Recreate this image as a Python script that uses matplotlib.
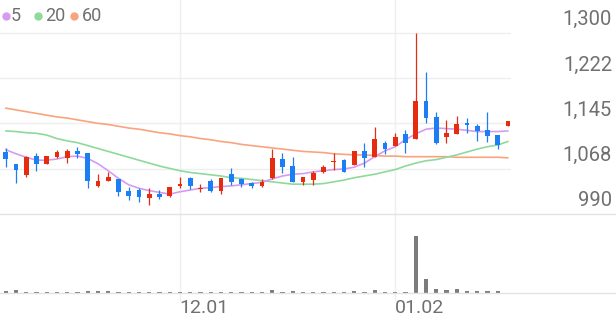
import matplotlib
matplotlib.use("Agg")
import matplotlib.pyplot as plt
from matplotlib.lines import Line2D
from matplotlib import transforms
import numpy as np
import pandas as pd

# ---------------- data ----------------
dates = pd.bdate_range("2022-11-08", "2023-01-17")
dates = dates[dates != pd.Timestamp("2022-12-30")]

open_ = [1096, 1076, 1056, 1090, 1076, 1088, 1086, 1097, 1094, 1038,
         1046, 1049, 1030, 1031, 1018, 1025, 1020, 1038, 1051, 1033,
         1047, 1030, 1058, 1049, 1043, 1038, 1051, 1084, 1072, 1045,
         1048, 1061, 1079, 1082, 1074, 1098, 1088, 1111, 1106, 1127,
         1119, 1183, 1156, 1121, 1127, 1145, 1141, 1134, 1125, 1141]
high = [1102, 1076, 1089, 1095, 1090, 1099, 1101, 1104, 1095, 1058,
        1062, 1050, 1037, 1035, 1034, 1031, 1037, 1054, 1054, 1041,
        1049, 1052, 1068, 1051, 1045, 1049, 1101, 1094, 1087, 1054,
        1064, 1074, 1094, 1084, 1097, 1111, 1138, 1114, 1128, 1134,
        1300, 1232, 1164, 1150, 1158, 1154, 1144, 1164, 1125, 1149]
low = [1070, 1043, 1054, 1064, 1075, 1085, 1077, 1085, 1034, 1037,
       1046, 1020, 1014, 1011, 1005, 1016, 1019, 1034, 1032, 1027,
       1028, 1024, 1040, 1037, 1035, 1037, 1049, 1060, 1045, 1040,
       1040, 1060, 1065, 1062, 1073, 1070, 1088, 1093, 1106, 1095,
       1119, 1145, 1110, 1111, 1126, 1128, 1115, 1113, 1101, 1141]
close = [1084, 1065, 1088, 1076, 1090, 1096, 1098, 1093, 1047, 1047,
         1054, 1028, 1021, 1019, 1025, 1019, 1037, 1041, 1038, 1035,
         1030, 1051, 1044, 1041, 1038, 1045, 1086, 1071, 1045, 1054,
         1060, 1071, 1081, 1062, 1097, 1085, 1118, 1101, 1121, 1111,
         1183, 1155, 1111, 1128, 1144, 1142, 1132, 1123, 1108, 1149]
volume = [170, 300, 120, 120, 120, 120, 120, 80, 170, 200,
          170, 120, 120, 120, 120, 120, 120, 120, 120, 120,
          120, 90, 140, 90, 90, 90, 300, 140, 200, 120,
          90, 90, 90, 90, 170, 120, 300, 140, 140, 140,
          5700, 1430, 430, 270, 400, 160, 160, 160, 160, 20]
ma5 = [1100, 1093, 1087, 1082, 1082, 1084, 1088, 1089, 1085, 1076,
       1064, 1051, 1040, 1034, 1030, 1027, 1024, 1028, 1031, 1034,
       1035, 1037, 1038, 1040, 1042, 1044, 1050, 1055, 1058, 1059,
       1062, 1064, 1066, 1067, 1070, 1077, 1088, 1098, 1105, 1117,
       1127, 1135, 1137, 1136, 1135, 1133, 1131, 1131, 1131, 1132]
ma20 = [1132, 1131, 1129, 1128, 1125, 1119, 1115, 1112, 1107, 1102,
        1097, 1092, 1087, 1082, 1077, 1072, 1068, 1064, 1061, 1059,
        1057, 1055, 1052, 1051, 1049, 1047, 1045, 1043, 1041, 1041,
        1041, 1042, 1045, 1048, 1052, 1055, 1058, 1062, 1066, 1072,
        1077, 1081, 1083, 1087, 1091, 1096, 1101, 1105, 1108, 1114]
ma60 = [1171, 1168, 1165, 1162, 1159, 1156, 1154, 1151, 1148, 1145,
        1143, 1140, 1137, 1135, 1132, 1129, 1127, 1124, 1122, 1119,
        1117, 1114, 1112, 1109, 1107, 1105, 1103, 1101, 1099, 1097,
        1096, 1095, 1093, 1092, 1091, 1091, 1090, 1089, 1089, 1088,
        1088, 1088, 1088, 1088, 1087, 1087, 1087, 1087, 1087, 1086]

y_ticks = [990, 1067.5, 1145, 1222.5, 1300]
y_tick_labels = ["990", "1,068", "1,145", "1,222", "1,300"]
ma_names = ["5", "20", "60"]

# ---------------- style ----------------
UP = "#E62C10"
DOWN = "#1B7EF2"
MA_COLORS = ["#D69BF0", "#8FD99C", "#F9A47F"]
GRID = "#EFEFEF"
SEP = "#E3E3E3"
TXT = "#707070"
FONT = "Roboto"

W, H = 616, 321
fig = plt.figure(figsize=(W / 100, H / 100), dpi=100)
fig.patch.set_facecolor("white")

plot_right = 511
price_bottom = 214
vol_bottom = 293

ax = fig.add_axes([0, (H - price_bottom) / H, plot_right / W, price_bottom / H])
axv = fig.add_axes([0, (H - vol_bottom) / H, plot_right / W, (vol_bottom - price_bottom) / H])
for a in (ax, axv):
    a.set_axis_off()
    a.patch.set_alpha(0)

n = len(close)
x = np.arange(n)
step_px = 10.25
first_px = 5.7
xlim = (-first_px / step_px, (plot_right - first_px) / step_px)
ax.set_xlim(*xlim)
axv.set_xlim(*xlim)
px_per_won = (214 - 32.7) / (y_ticks[-1] - y_ticks[0])
ax.set_ylim(y_ticks[0], y_ticks[0] + price_bottom / px_per_won)
axv.set_ylim(0, max(volume) * (vol_bottom - price_bottom) / 57.0)

# horizontal gridlines
for v in y_ticks[1:]:
    ax.axhline(v, color=GRID, lw=1.0, zorder=0)

# separators (full width)
for ypx in (price_bottom, vol_bottom):
    fig.add_artist(Line2D([0, 1], [1 - ypx / H, 1 - ypx / H], color=SEP, lw=1.0,
                          transform=fig.transFigure))

# month ticks
months = dates.month
tick_idx = [i for i in range(1, n) if months[i] != months[i - 1]]
vtrans = transforms.blended_transform_factory(ax.transData, fig.transFigure)
for i in tick_idx:
    fig.add_artist(Line2D([i, i], [1 - 300 / H, 1], color=GRID, lw=1.0,
                          transform=vtrans, zorder=0))
    ax.text(i - 0.05, 1 - 308 / H, dates[i].strftime("%m.%d"), transform=vtrans,
            ha="left", va="center", fontsize=14, color=TXT, family=FONT, clip_on=False)

# y labels
ytrans = transforms.blended_transform_factory(fig.transFigure, ax.transData) + \
    transforms.ScaledTranslation(0, 13 / 100, fig.dpi_scale_trans)
for v, lab in zip(y_ticks, y_tick_labels):
    ax.text(612 / W, v, lab, transform=ytrans, ha="right", va="center",
            fontsize=14.5, color=TXT, family=FONT, clip_on=False)

# moving averages
for ma, c in zip([ma60, ma20, ma5], MA_COLORS[::-1]):
    ax.plot(x, ma, color=c, lw=1.2, zorder=2, solid_capstyle="round")

# candles
body_w = 0.46
op = np.array(open_, float)
cl = np.array(close, float)
hi = np.array(high, float)
lo = np.array(low, float)
colors = [UP if c >= o else DOWN for o, c in zip(op, cl)]
ax.vlines(x, lo, hi, colors=colors, lw=0.9, zorder=3)
bottoms = np.minimum(op, cl)
heights = np.maximum(np.abs(cl - op), 2.0)
ax.bar(x, heights, bottom=bottoms, width=body_w, color=colors, linewidth=0, zorder=4)

# volume
axv.bar(x, volume, width=0.42, color="#7C7C7C", linewidth=0, zorder=3)

# legend
lx = [6, 37.7, 74]
tx = [10.5, 45.5, 82]
for name, c, px, tpx in zip(ma_names, MA_COLORS, lx, tx):
    fig.add_artist(Line2D([px / W], [1 - 15.7 / H], marker="o", markersize=5,
                          markerfacecolor=c, markeredgecolor=c, linestyle="none",
                          transform=fig.transFigure))
    fig.text(tpx / W, 1 - 15.7 / H, name, ha="left", va="center",
             fontsize=13, color=TXT, family=FONT)

fig.savefig("out.png", dpi=100, facecolor="white")
